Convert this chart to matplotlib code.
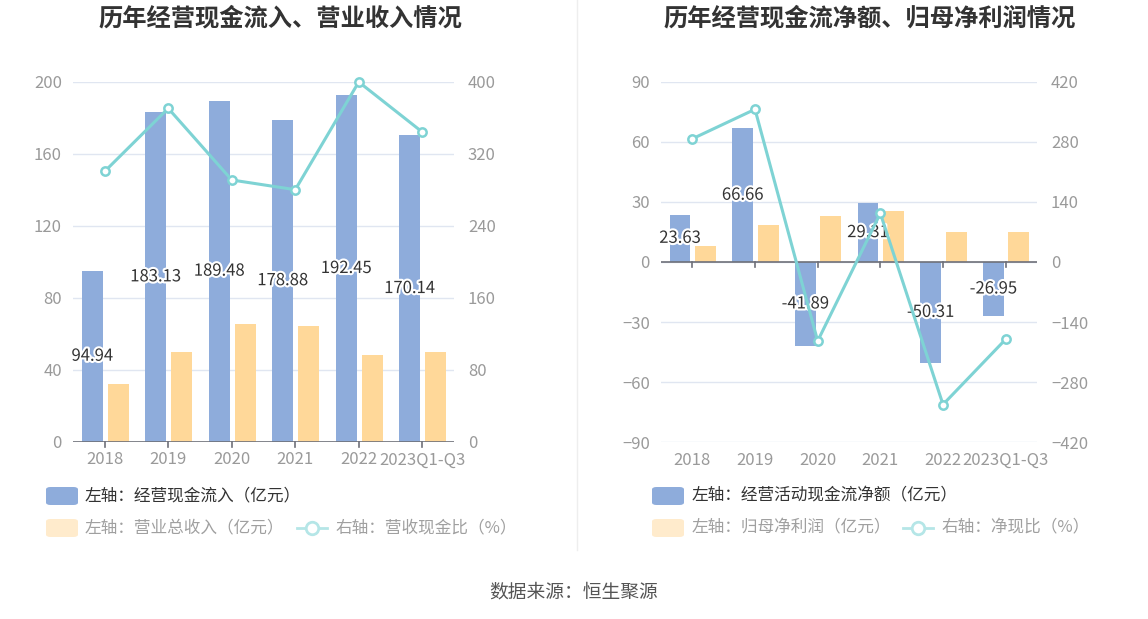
import matplotlib
matplotlib.use("Agg")
import matplotlib.pyplot as plt
import matplotlib.patheffects as pe
from matplotlib.patches import FancyBboxPatch
from matplotlib.lines import Line2D

plt.rcParams['font.family'] = ['Noto Sans CJK SC', 'DejaVu Sans']

categories = ['2018', '2019', '2020', '2021', '2022', '2023Q1-Q3']
# Left chart
cash_inflow = [94.94, 183.13, 189.48, 178.88, 192.45, 170.14]
revenue = [31.9, 49.6, 65.4, 64.3, 48.3, 49.6]
cash_rev_ratio = [300.4, 370.4, 290.8, 280.0, 399.7, 344.1]
# Right chart
net_cash_flow = [23.63, 66.66, -41.89, 29.31, -50.31, -26.95]
net_profit = [8.0, 18.6, 22.9, 25.6, 15.1, 14.9]
net_cash_ratio = [287, 355.7, -184, 113.4, -332, -180]

left_ticks = [0, 40, 80, 120, 160, 200]
left_rticks = [0, 80, 160, 240, 320, 400]
right_ticks = [-90, -60, -30, 0, 30, 60, 90]
right_rticks = [-420, -280, -140, 0, 140, 280, 420]

BLUE = '#8EACDB'
ORANGE = '#FFD899'
TEAL = '#7ED3D4'
GRID = '#E0E6F1'
AXIS = '#6E7079'
TICK = '#9A9A9A'

W, H = 1148, 619
fig = plt.figure(figsize=(W / 100, H / 100), dpi=100)
fig.patch.set_facecolor('white')


def fx(x):
    return x / W


def fy(y):
    return 1 - y / H


def make_chart(rect, bars1, bars2, line, ylim, rylim, yt, ryt, zero_axis):
    ax = fig.add_axes(rect)
    ax2 = ax.twinx()
    x = list(range(len(categories)))
    ax.set_xlim(-0.5, len(categories) - 0.5)
    ax.set_ylim(*ylim)
    ax2.set_ylim(*rylim)
    ax.set_yticks(yt)
    ax2.set_yticks(ryt)
    for a in (ax, ax2):
        for s in a.spines.values():
            s.set_visible(False)
        a.tick_params(axis='y', length=0, labelsize=12, labelcolor=TICK)
    ax.tick_params(axis='y', pad=8)
    ax2.tick_params(axis='y', pad=10)
    for t in yt:
        ax.axhline(t, color=GRID, lw=1, zorder=0)
    ax.set_xticks(x)
    ax.set_xticklabels(categories, fontsize=12, color=TICK)
    ax.tick_params(axis='x', length=0, pad=7)
    if not zero_axis:
        ax.axhline(ylim[0], color=AXIS, lw=1.2, zorder=3)
    else:
        ax.axhline(0, color=AXIS, lw=1.2, zorder=3)
    # tick marks at category centers
    y0 = 0 if zero_axis else ylim[0]
    span = ylim[1] - ylim[0]
    for xi in x:
        ax.plot([xi, xi], [y0, y0 - span * 0.014], color=AXIS, lw=1.2,
                clip_on=False, zorder=3)
    ax.bar([xi - 0.195 for xi in x], bars1, width=0.33, color=BLUE, zorder=2)
    ax.bar([xi + 0.21 for xi in x], bars2, width=0.33, color=ORANGE, zorder=2)
    for xi, v in zip(x, bars1):
        ax.text(xi - 0.195, v / 2, f'{v:.2f}', ha='center', va='center',
                fontsize=12, color='#333333', zorder=5,
                path_effects=[pe.withStroke(linewidth=3, foreground='white')])
    ax2.plot(x, line, color=TEAL, lw=2.2, marker='o', markersize=6,
             markerfacecolor='white', markeredgecolor=TEAL,
             markeredgewidth=1.8, zorder=4, clip_on=False)
    ax2.set_zorder(ax.get_zorder() + 1)
    ax2.patch.set_visible(False)
    return ax, ax2


make_chart([fx(73), fy(441.7), fx(454 - 73), (441.7 - 81.7) / H],
           cash_inflow, revenue, cash_rev_ratio, (0, 200), (0, 400),
           left_ticks, left_rticks, False)
make_chart([fx(661), fy(442.3), fx(1037 - 661), (442.3 - 81.7) / H],
           net_cash_flow, net_profit, net_cash_ratio, (-90, 90), (-420, 420),
           right_ticks, right_rticks, True)

# Titles
fig.text(fx(280), fy(18), '历年经营现金流入、营业收入情况', ha='center', va='center',
         fontsize=17.5, fontweight='bold', color='#333333')
fig.text(fx(870), fy(18), '历年经营现金流净额、归母净利润情况', ha='center', va='center',
         fontsize=17.5, fontweight='bold', color='#333333')

# separator
fig.add_artist(Line2D([fx(577), fx(577)], [fy(0), fy(550)], color='#EEEEEE', lw=1))


def legend_patch(x, y, color):
    p = FancyBboxPatch((fx(x), fy(y + 9)), fx(32), 18 / H,
                       boxstyle='round,pad=0,rounding_size=0.004',
                       transform=fig.transFigure, facecolor=color,
                       edgecolor='none')
    fig.add_artist(p)


def legend_line(x, y, color):
    fig.add_artist(Line2D([fx(x), fx(x + 30)], [fy(y), fy(y)], color=color, lw=2))
    fig.add_artist(Line2D([fx(x + 15)], [fy(y)], marker='o', markersize=9,
                          markerfacecolor='white', markeredgecolor=color,
                          markeredgewidth=2))


LEG_DARK = '#333333'
LEG_LIGHT = '#A0A0A0'
LS = 12
# Left legend
legend_patch(46, 496, BLUE)
fig.text(fx(85), fy(496), '左轴：经营现金流入（亿元）', va='center', fontsize=LS, color=LEG_DARK)
legend_patch(46, 528, '#FFEBCC')
fig.text(fx(85), fy(528), '左轴：营业总收入（亿元）', va='center', fontsize=LS, color=LEG_LIGHT)
legend_line(297, 528, '#B5E6E7')
fig.text(fx(335), fy(528), '右轴：营收现金比（%）', va='center', fontsize=LS, color=LEG_LIGHT)

# Right legend
legend_patch(652, 496, BLUE)
fig.text(fx(692), fy(496), '左轴：经营活动现金流净额（亿元）', va='center', fontsize=LS, color=LEG_DARK)
legend_patch(652, 528, '#FFEBCC')
fig.text(fx(692), fy(528), '左轴：归母净利润（亿元）', va='center', fontsize=LS, color=LEG_LIGHT)
legend_line(903, 528, '#B5E6E7')
fig.text(fx(941), fy(528), '右轴：净现比（%）', va='center', fontsize=LS, color=LEG_LIGHT)

# Source
fig.text(fx(574), fy(592), '数据来源：恒生聚源', ha='center', va='center',
         fontsize=13.5, color='#555555')

fig.savefig('out.png', dpi=100, facecolor='white')
